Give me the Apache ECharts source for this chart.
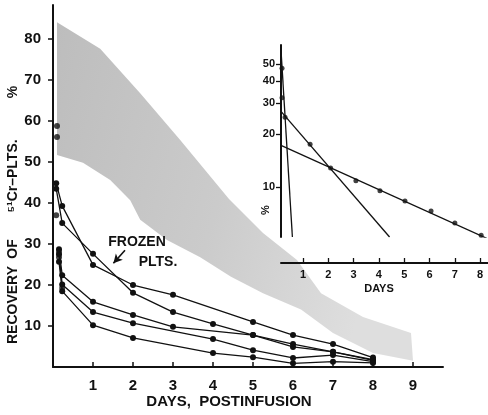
<!DOCTYPE html>
<html><head><meta charset="utf-8">
<script src="https://cdn.jsdelivr.net/npm/echarts@6/dist/echarts.min.js"></script>
<style>html,body{margin:0;padding:0;background:#fff}#c{width:488px;height:415px}</style>
</head><body><div id="c"></div>
<script>
// ---- main plot data (day, % recovery) ----
const mainXTickValues = [0,1,2,3,4,5,6,7,8,9];
const mainXLabels = [1,2,3,4,5,6,7,8,9];
const mainYLabels = [10,20,30,40,50,60,70,80];
const frozen1 = [[0.08,44.8],[0.23,39.3],[1,24.9],[2,20.0],[3,17.6],[5,11.0],[6,7.8],[7,5.6],[8,2.3]];
const frozen2 = [[0.08,43.5],[0.23,35.1],[1,27.6],[2,18.1],[3,13.4],[4,10.5],[5,7.8],[6,5.6],[7,3.7],[8,1.8]];
const frozen3 = [[0.15,28.7],[0.23,22.4],[1,15.9],[2,12.7],[3,9.8],[5,7.8],[6,4.9],[7,3.7],[8,1.6]];
const frozen4 = [[0.15,27.5],[0.23,20.1],[1,13.4],[2,10.7],[4,6.8],[5,4.1],[6,2.2],[7,2.9],[8,1.3]];
const frozen5 = [[0.15,25.7],[0.23,18.5],[1,10.2],[2,7.1],[4,3.4],[5,2.4],[6,0.9],[7,1.3],[8,1.0]];
const loosePoints = [[0.1,58.8],[0.1,56.1],[0.08,37.0],[0.15,28.1],[0.15,26.8],[0.23,19.3]];
// normal range band (upper edge left->right, lower edge right->left)
const bandUpper = [[0.1,84.1],[1.18,77.6],[2.18,66.8],[3.18,55.4],[4.4,41.0],[5.25,32.7],[6.1,26.1],[6.7,18.0],[7.75,12.2],[8.95,8.3]];
const bandLower = [[9.0,1.5],[8.0,3.4],[7.0,8.3],[6.2,14.0],[5.25,18.0],[4.45,22.0],[3.68,26.8],[2.85,31.0],[2.18,35.9],[1.93,40.7],[1.43,45.6],[0.75,49.8],[0.1,51.7]];
const arrowFrom = [1.8,28.5], arrowTo = [1.51,25.3];

// ---- inset (log scale) data ----
const insetXLabels = [1,2,3,4,5,6,7,8];
const insetYLabels = [10,20,30,40,50];
const insetSteepLine = [[0.13,60.2],[0.58,5.23]];
const insetMidLine = [[0.13,27.0],[4.42,5.23]];
const insetSlowLine = [[0.13,17.3],[8.26,5.14]];
const insetPoints = [[0.17,47.4],[0.17,32.3],[0.29,25.0],[1.28,17.6],[2.09,12.9],[3.09,10.9],[4.04,9.58],[5.03,8.37],[6.06,7.34],[7.0,6.28],[8.04,5.35]];

const FONT = "'Liberation Sans','Arial',sans-serif";
const chart = echarts.init(document.getElementById('c'), null, {renderer:'canvas'});
const bandPts = bandUpper.concat(bandLower);
const lineStyle = {color:'#111', width:1.3};
function frozenSeries(d){
  return {type:'line', xAxisIndex:0, yAxisIndex:0, data:d, symbol:'circle', symbolSize:6,
    itemStyle:{color:'#111'}, lineStyle:lineStyle, silent:true, z:3};
}
const s1 = frozenSeries(frozen1);
s1.markLine = {silent:true, symbol:['none','arrow'], symbolSize:[7,9], label:{show:false},
  lineStyle:{color:'#111', width:1.6, type:'solid'},
  data:[[{coord:arrowFrom},{coord:arrowTo}]]};
function txt(s, x, y, size, rot){
  return {type:'text', x:x, y:y, rotation:rot||0, silent:true, z:10,
    style:{text:s, fontFamily:FONT, fontWeight:'bold', fontSize:size, fill:'#111', align:'center', verticalAlign:'middle'}};
}

chart.setOption({
  animation:false,
  backgroundColor:'#fff',
  grid:[
    {left:53, right:45, top:5, bottom:48},
    {left:281, right:0, top:45, bottom:178}
  ],
  xAxis:[
    {type:'value', gridIndex:0, min:0, max:9.75, z:5,
     axisLine:{show:true, lineStyle:{color:'#111', width:2}},
     axisTick:{show:true, inside:true, length:5, lineStyle:{color:'#111', width:1.5}, customValues:mainXTickValues},
     axisLabel:{color:'#111', fontFamily:FONT, fontWeight:'bold', fontSize:15, margin:11, customValues:mainXLabels},
     splitLine:{show:false}},
    {type:'value', gridIndex:1, min:0.13, max:8.31, offset:26, z:5,
     axisLine:{show:true, lineStyle:{color:'#111', width:2}},
     axisTick:{show:true, inside:true, length:5, lineStyle:{color:'#111', width:1.3}, customValues:insetXLabels},
     axisLabel:{color:'#111', fontFamily:FONT, fontWeight:'bold', fontSize:11, margin:6, customValues:insetXLabels},
     splitLine:{show:false}}
  ],
  yAxis:[
    {type:'value', gridIndex:0, min:0, max:88.3, offset:6, z:5,
     axisLine:{show:true, lineStyle:{color:'#111', width:2}},
     axisTick:{show:true, inside:false, length:5, lineStyle:{color:'#111', width:1.5}, customValues:mainYLabels},
     axisLabel:{color:'#111', fontFamily:FONT, fontWeight:'bold', fontSize:15, margin:6, customValues:mainYLabels},
     splitLine:{show:false}},
    {type:'log', gridIndex:1, logBase:10, min:5.23, max:64.3, z:5,
     axisLine:{show:true, lineStyle:{color:'#111', width:2}},
     axisTick:{show:true, inside:false, length:5, lineStyle:{color:'#111', width:1.3}, customValues:insetYLabels},
     axisLabel:{color:'#111', fontFamily:FONT, fontWeight:'bold', fontSize:11, margin:6, customValues:insetYLabels},
     splitLine:{show:false}, minorTick:{show:false}}
  ],
  series:[
    {type:'custom', xAxisIndex:0, yAxisIndex:0, data:[0], silent:true, z:1,
     renderItem:function(params, api){
       return {type:'polygon', shape:{points:bandPts.map(p=>api.coord(p))},
         style:{fill:new echarts.graphic.LinearGradient(0,0,1,0.3,[{offset:0,color:'#bdbdbd'},{offset:0.55,color:'#cbcbcb'},{offset:1,color:'#dedede'}])}};
     }},
    s1,
    frozenSeries(frozen2), frozenSeries(frozen3), frozenSeries(frozen4), frozenSeries(frozen5),
    {type:'scatter', xAxisIndex:0, yAxisIndex:0, data:loosePoints, symbolSize:6, itemStyle:{color:'#111'}, silent:true, z:3},
    {type:'line', xAxisIndex:1, yAxisIndex:1, data:insetSteepLine, symbol:'none', lineStyle:{color:'#111', width:1.3}, silent:true},
    {type:'line', xAxisIndex:1, yAxisIndex:1, data:insetMidLine, symbol:'none', lineStyle:{color:'#111', width:1.3}, silent:true},
    {type:'line', xAxisIndex:1, yAxisIndex:1, data:insetSlowLine, symbol:'none', lineStyle:{color:'#111', width:1.3}, silent:true},
    {type:'scatter', xAxisIndex:1, yAxisIndex:1, data:insetPoints, symbolSize:5, itemStyle:{color:'#111'}, clip:false, silent:true, z:3}
  ],
  graphic:[
    txt('RECOVERY', 13, 305, 14, Math.PI/2),
    txt('OF', 13, 249, 14, Math.PI/2),
    txt('\u2075\u00b9Cr\u2013PLTS.', 13, 176, 14, Math.PI/2),
    txt('%', 13, 92, 14, Math.PI/2),
    txt('DAYS,  POSTINFUSION', 229, 402, 15),
    txt('FROZEN', 137, 242, 14),
    txt('PLTS.', 158, 262, 14),
    txt('DAYS', 379, 289, 11),
    txt('%', 266, 210, 11, Math.PI/2)
  ]
});
</script></body></html>
